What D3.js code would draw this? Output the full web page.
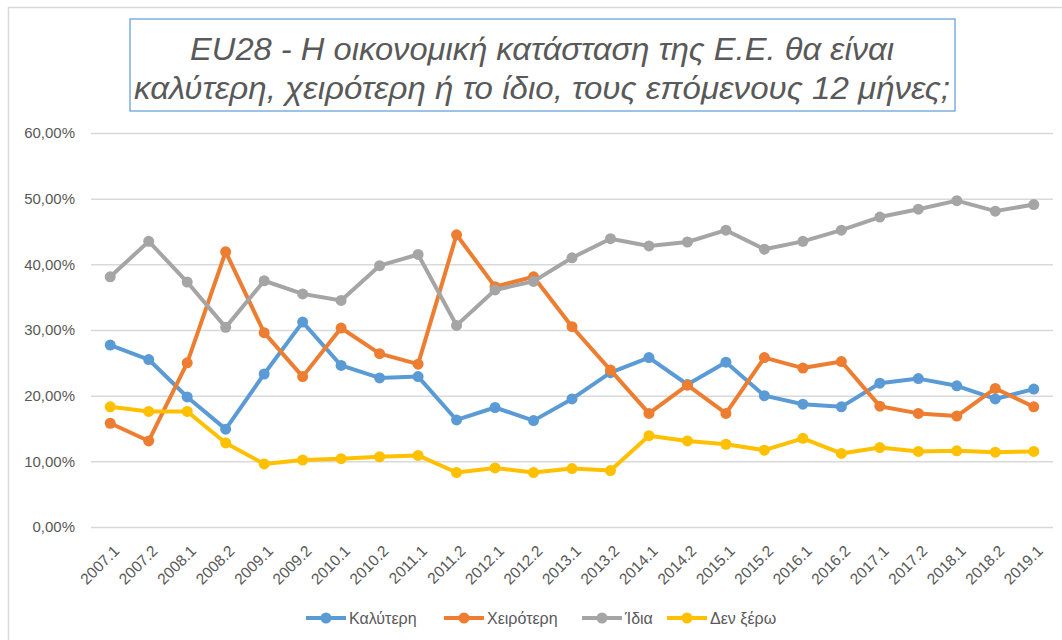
<!DOCTYPE html>
<html>
<head>
<meta charset="utf-8">
<script src="https://cdn.jsdelivr.net/npm/d3@7"></script>
<style>
    body { margin: 0; background: #fff; }
    svg { display: block; }
    text { font-family: 'Liberation Sans', Arial, sans-serif; fill: #595959; }
</style>
</head>
<body>
<svg width="1062" height="640"></svg>
<script>
const periods = ['2007.1', '2007.2', '2008.1', '2008.2', '2009.1', '2009.2', '2010.1', '2010.2',
    '2011.1', '2011.2', '2012.1', '2012.2', '2013.1', '2013.2', '2014.1', '2014.2', '2015.1',
    '2015.2', '2016.1', '2016.2', '2017.1', '2017.2', '2018.1', '2018.2', '2019.1'];

const better = [27.7, 25.5, 19.8, 14.9, 23.3, 31.2, 24.6, 22.7, 22.9, 16.3, 18.2, 16.2, 19.5,
    23.5, 25.8, 21.7, 25.1, 20.0, 18.7, 18.3, 21.9, 22.6, 21.5, 19.5, 21.0];
const worse = [15.8, 13.1, 25.0, 41.9, 29.6, 22.9, 30.3, 26.4, 24.8, 44.5, 36.6, 38.1, 30.5,
    23.9, 17.3, 21.6, 17.3, 25.8, 24.2, 25.2, 18.4, 17.3, 16.9, 21.1, 18.3];
const same = [38.1, 43.5, 37.3, 30.4, 37.5, 35.5, 34.5, 39.8, 41.5, 30.7, 36.1, 37.4, 41.0,
    43.9, 42.8, 43.4, 45.2, 42.3, 43.5, 45.2, 47.2, 48.4, 49.7, 48.1, 49.1];
const dontKnow = [18.3, 17.6, 17.6, 12.8, 9.6, 10.2, 10.4, 10.7, 10.9, 8.3, 9.0, 8.3, 8.9,
    8.6, 13.9, 13.1, 12.6, 11.7, 13.5, 11.2, 12.1, 11.5, 11.6, 11.4, 11.5];

const seriesNames = ['Καλύτερη', 'Χειρότερη', 'Ίδια', 'Δεν ξέρω'];
const seriesColors = ['#5B9BD5', '#ED7D31', '#A5A5A5', '#FFC000'];
const yTicks = [0, 10, 20, 30, 40, 50, 60];

const titleLines = ['EU28 - Η οικονομική κατάσταση της Ε.Ε. θα είναι',
    'καλύτερη, χειρότερη ή το ίδιο, τους επόμενους 12 μήνες;'];

const series = [better, worse, same, dontKnow].map((values, i) => ({
    name: seriesNames[i],
    color: seriesColors[i],
    values: values
}));

const svg = d3.select('svg');

// chart area border (cut off at right/bottom like the screenshot)
svg.append('rect')
    .attr('x', 8.5)
    .attr('y', 7.5)
    .attr('width', 1100)
    .attr('height', 700)
    .attr('fill', '#fff')
    .attr('stroke', '#D9D9D9')
    .attr('stroke-width', 1.5);

const plot = { left: 91, right: 1053, top: 133, bottom: 527 };

const xScale = d3.scaleBand()
    .domain(periods)
    .range([plot.left, plot.right]);

const yScale = d3.scaleLinear()
    .domain([0, 60])
    .range([plot.bottom, plot.top]);

// grid lines + y labels
const yAxis = svg.append('g')
    .attr('transform', `translate(${plot.left}, 0)`)
    .call(d3.axisLeft(yScale)
        .tickValues(yTicks)
        .tickSize(-(plot.right - plot.left))
        .tickPadding(16)
        .tickFormat((d) => d3.format('.2f')(d).replace('.', ',') + '%'));

yAxis.select('.domain').remove();
yAxis.selectAll('.tick line')
    .attr('stroke', '#D9D9D9')
    .attr('stroke-width', 1.5);
yAxis.selectAll('.tick text')
    .attr('font-size', 15)
    .attr('font-family', 'Liberation Sans, Arial, sans-serif')
    .attr('fill', '#595959');

// x labels, rotated
const xAxis = svg.append('g')
    .attr('transform', `translate(0, ${plot.bottom})`)
    .call(d3.axisBottom(xScale).tickSize(0).tickPadding(0));

xAxis.select('.domain').remove();
xAxis.selectAll('.tick text')
    .attr('font-size', 15.5)
    .attr('font-family', 'Liberation Sans, Arial, sans-serif')
    .attr('fill', '#595959')
    .attr('text-anchor', 'end')
    .attr('y', 0)
    .attr('dy', 0)
    .attr('transform', 'translate(10, 25) rotate(-45)');

const cx = (i) => xScale(periods[i]) + xScale.bandwidth() / 2;

const line = d3.line()
    .x((d, i) => cx(i))
    .y((d) => yScale(d));

const seriesGroups = svg.selectAll('.series')
    .data(series)
    .enter()
    .append('g')
    .attr('class', 'series');

seriesGroups.append('path')
    .attr('d', (s) => line(s.values))
    .attr('fill', 'none')
    .attr('stroke', (s) => s.color)
    .attr('stroke-width', 4)
    .attr('stroke-linejoin', 'round');

seriesGroups.selectAll('circle')
    .data((s) => s.values.map((v) => ({ v: v, color: s.color })))
    .enter()
    .append('circle')
    .attr('cx', (d, i) => cx(i))
    .attr('cy', (d) => yScale(d.v))
    .attr('r', 5.5)
    .attr('fill', (d) => d.color);

// title box
svg.append('rect')
    .attr('x', 130)
    .attr('y', 19)
    .attr('width', 825)
    .attr('height', 92)
    .attr('fill', '#fff')
    .attr('stroke', '#5B9BD5')
    .attr('stroke-width', 1.2);

svg.selectAll('.title')
    .data(titleLines)
    .enter()
    .append('text')
    .attr('class', 'title')
    .attr('x', 542)
    .attr('y', (d, i) => 60 + i * 39)
    .attr('text-anchor', 'middle')
    .attr('font-size', 31)
    .attr('font-style', 'italic')
    .attr('textLength', (d, i) => i === 0 ? 704 : 816)
    .attr('lengthAdjust', 'spacingAndGlyphs')
    .text((d) => d);

// legend
const legendX = [306, 444, 582, 667];
const legend = svg.selectAll('.legend')
    .data(series)
    .enter()
    .append('g')
    .attr('class', 'legend')
    .attr('transform', (s, i) => `translate(${legendX[i]}, 618)`);

legend.append('line')
    .attr('x1', 0)
    .attr('x2', 40)
    .attr('stroke', (s) => s.color)
    .attr('stroke-width', 4);

legend.append('circle')
    .attr('cx', 20)
    .attr('r', 5.5)
    .attr('fill', (s) => s.color);

legend.append('text')
    .attr('x', 43)
    .attr('y', 5.5)
    .attr('font-size', 16)
    .text((s) => s.name);
</script>
</body>
</html>
